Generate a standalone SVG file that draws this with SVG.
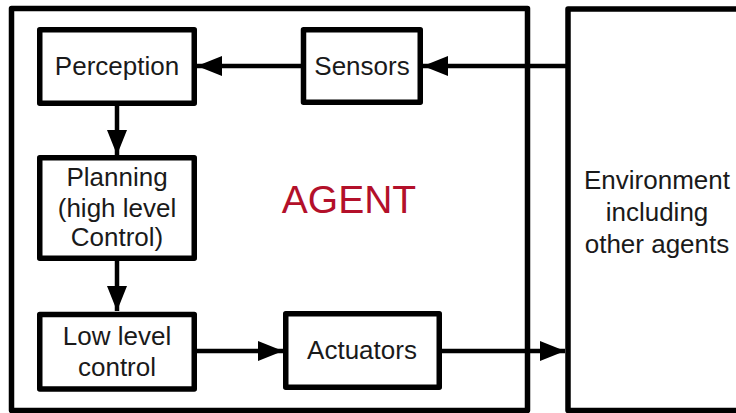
<svg xmlns="http://www.w3.org/2000/svg" width="736" height="413" viewBox="0 0 736 413">
  <style>
    .frame { fill: none; stroke: #000; stroke-width: 5.5; stroke-linejoin: round; }
    .box { fill: #fff; stroke: #000; stroke-width: 5.5; stroke-linejoin: round; }
    .lbl { font-family: "Liberation Sans", Arial, Helvetica, sans-serif; font-size: 26px; fill: #1a1a1a; text-anchor: middle; }
    .agent { font-family: "Liberation Sans", Arial, Helvetica, sans-serif; font-size: 39px; fill: #b3102a; text-anchor: middle; }
    .conn { stroke: #000; stroke-width: 4.5; fill: none; }
  </style>
  <defs>
    <marker id="ah" markerUnits="userSpaceOnUse" markerWidth="26" markerHeight="22" refX="25" refY="11" orient="auto">
      <path d="M0,1 L25,11 L0,21 Z" fill="#000"/>
    </marker>
  </defs>
  <rect width="736" height="413" fill="#fff"/>

  <g id="agent">
    <rect class="frame" x="11.5" y="8.5" width="516" height="402"/>
    <text class="agent" x="349" y="213">AGENT</text>
  </g>

  <g id="environment">
    <rect class="frame" x="568" y="9" width="200" height="401.5"/>
    <text class="lbl" x="657" y="189">Environment</text>
    <text class="lbl" x="657" y="221">including</text>
    <text class="lbl" x="657" y="253">other agents</text>
  </g>

  <g id="connectors">
    <line class="conn" x1="568" y1="66" x2="423" y2="66" marker-end="url(#ah)"/>
    <line class="conn" x1="303" y1="66" x2="197" y2="66" marker-end="url(#ah)"/>
    <line class="conn" x1="117" y1="106" x2="117" y2="155" marker-end="url(#ah)"/>
    <line class="conn" x1="117" y1="261" x2="117" y2="311" marker-end="url(#ah)"/>
    <line class="conn" x1="197" y1="351" x2="283" y2="351" marker-end="url(#ah)"/>
    <line class="conn" x1="442" y1="351" x2="565" y2="351" marker-end="url(#ah)"/>
  </g>

  <g id="perception">
    <rect class="box" x="39.75" y="29.75" width="154.5" height="73.5"/>
    <text class="lbl" x="117" y="75">Perception</text>
  </g>

  <g id="sensors">
    <rect class="box" x="303.5" y="29.75" width="116.75" height="72.5"/>
    <text class="lbl" x="362" y="75">Sensors</text>
  </g>

  <g id="planning">
    <rect class="box" x="39.75" y="157.75" width="154.5" height="100.5"/>
    <text class="lbl" x="117" y="186">Planning</text>
    <text class="lbl" x="117" y="216.5">(high level</text>
    <text class="lbl" x="117" y="246">Control)</text>
  </g>

  <g id="low-level-control">
    <rect class="box" x="39.75" y="314.5" width="154.5" height="74.5"/>
    <text class="lbl" x="117" y="345">Low level</text>
    <text class="lbl" x="117" y="376">control</text>
  </g>

  <g id="actuators">
    <rect class="box" x="285.75" y="313.75" width="153.5" height="73.5"/>
    <text class="lbl" x="362" y="359">Actuators</text>
  </g>
</svg>
